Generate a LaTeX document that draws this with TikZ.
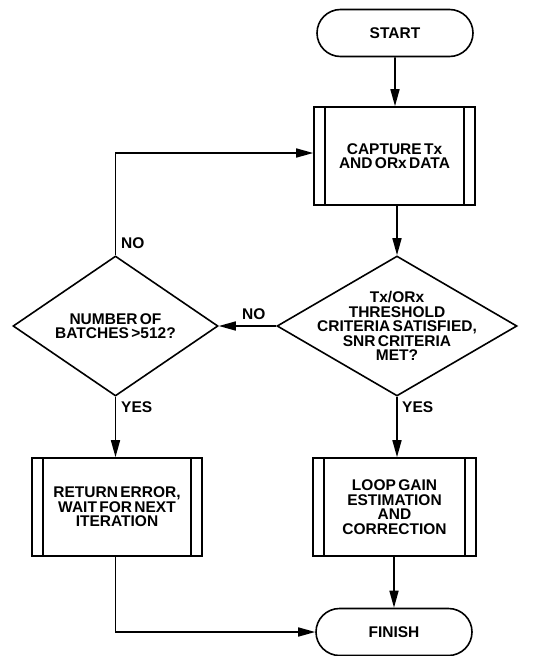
\documentclass[tikz,border=0pt]{standalone}
\usepackage{fontspec}
\setmainfont{Liberation Sans}[WordSpace=0.55]
\usetikzlibrary{shapes.geometric,shapes.misc,arrows.meta,calc}
\begin{document}
\begin{tikzpicture}[x=1pt,y=-1pt,
  every node/.style={font=\fontsize{15.5}{14.5}\selectfont\bfseries},
  ln/.style={line width=1.6pt},
  arr/.style={ln,-{Triangle[length=17pt,width=9pt]}},
  term/.style={draw,line width=1.6pt,rounded rectangle,minimum width=156pt,minimum height=47pt,inner sep=0pt},
  proc/.style={draw,line width=1.6pt,rectangle,inner sep=0pt,
    path picture={
      \draw[line width=1.6pt] ([xshift=11pt]path picture bounding box.north west) -- ([xshift=11pt]path picture bounding box.south west);
      \draw[line width=1.6pt] ([xshift=-11pt]path picture bounding box.north east) -- ([xshift=-11pt]path picture bounding box.south east);}},
  dia/.style={draw,line width=1.6pt,diamond,inner sep=0pt},
  txt/.style={align=center,inner sep=0pt},
  lab/.style={anchor=west,inner sep=0pt}
]
\useasboundingbox (0,0) rectangle (539,656);
\node[term] (start) at (395,33) {START};
\node[proc,minimum width=161pt,minimum height=98pt] (cap) at (394.5,156) {};
\node[txt] at (cap) {CAPTURE Tx\\AND ORx DATA};
\node[dia,minimum width=240pt,minimum height=140pt] (d1) at (397,326) {};
\node[txt] at (d1) {Tx/ORx\\THRESHOLD\\CRITERIA SATISFIED,\\SNR CRITERIA\\MET?};
\node[dia,minimum width=205pt,minimum height=140pt] (d2) at (115.5,326) {};
\node[txt] at (d2) {NUMBER OF\\BATCHES >512?};
\node[proc,minimum width=170pt,minimum height=98pt] (ret) at (117,507) {};
\node[txt] at (ret) {RETURN ERROR,\\WAIT FOR NEXT\\ITERATION};
\node[proc,minimum width=163pt,minimum height=98pt] (loop) at (394.5,507) {};
\node[txt] at (loop) {LOOP GAIN\\ESTIMATION\\AND\\CORRECTION};
\node[term] (fin) at (394,632) {FINISH};
\coordinate (c1) at (115.5,153);
\coordinate (c2) at (115.5,632);
\draw[arr] (start) -- (start|-cap.north);
\draw[arr] (cap.south-|d1.north) -- (d1.north);
\draw[arr] (d1.west) -- (d2.east);
\draw[arr] (d2.north) -- (c1) -- (c1-|cap.west);
\draw[arr] (d1.south) -- (d1.south|-loop.north);
\draw[arr] (d2.south) -- (d2.south|-ret.north);
\draw[arr] (loop.south-|fin.north) -- (fin.north);
\draw[arr] (ret.south-|c2) -- (c2) -- (fin.west);
\node[lab] at (121,243) {NO};
\node[lab] at (242,314) {NO};
\node[lab] at (121,407) {YES};
\node[lab] at (402,407) {YES};
\end{tikzpicture}
\end{document}
